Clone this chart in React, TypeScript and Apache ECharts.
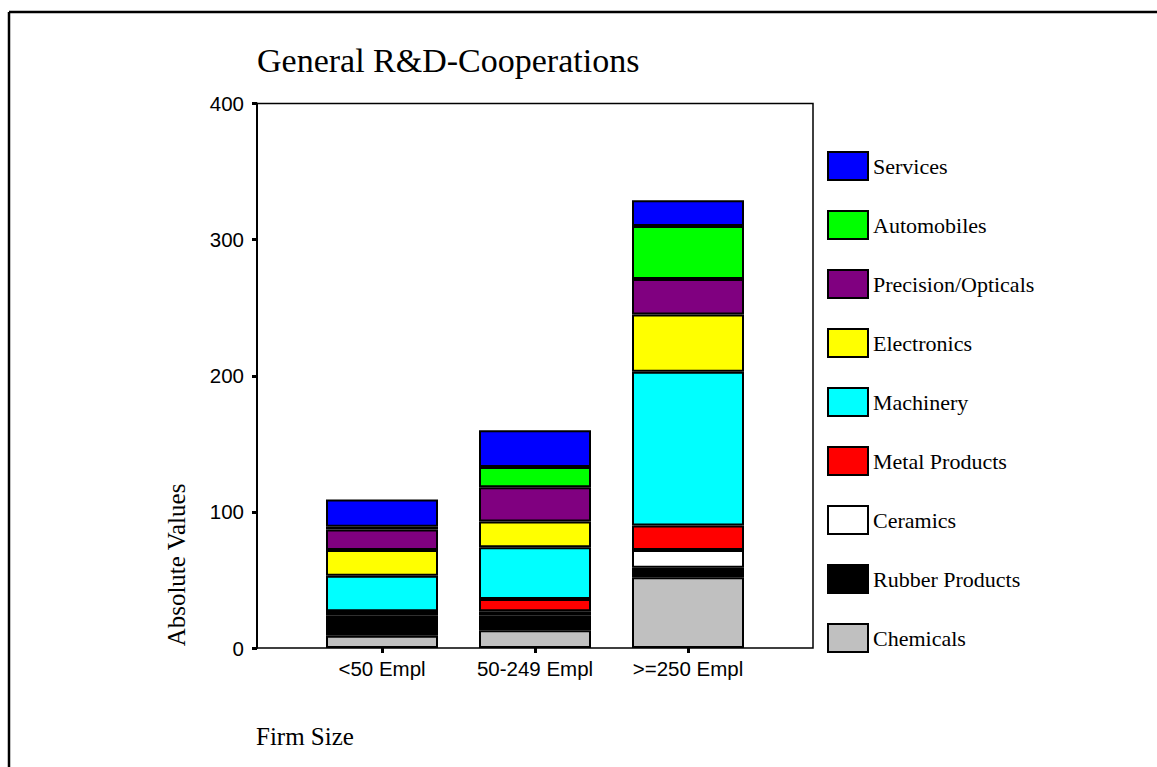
import React, { useEffect, useRef } from "react";
import * as echarts from "echarts";

const categories = ["<50 Empl", "50-249 Empl", ">=250 Empl"];
const chemicals = [9, 13, 52];
const rubber = [15, 11, 7];
const ceramics = [3, 3, 13];
const metal = [0, 9, 18];
const machinery = [26, 38, 113];
const electronics = [19, 19, 42];
const precision = [15, 25, 26];
const automobiles = [2, 15, 39];
const services = [20, 27, 19];

const seriesDefs = [
  { name: "Chemicals", data: chemicals, color: "#C0C0C0" },
  { name: "Rubber Products", data: rubber, color: "#000000" },
  { name: "Ceramics", data: ceramics, color: "#FFFFFF" },
  { name: "Metal Products", data: metal, color: "#FF0000" },
  { name: "Machinery", data: machinery, color: "#00FFFF" },
  { name: "Electronics", data: electronics, color: "#FFFF00" },
  { name: "Precision/Opticals", data: precision, color: "#800080" },
  { name: "Automobiles", data: automobiles, color: "#00FF00" },
  { name: "Services", data: services, color: "#0000FF" },
];

const yTicks = { min: 0, max: 400, interval: 100 };

const SERIF = "'Liberation Serif', 'Times New Roman', serif";
const SANS = "'Liberation Sans', Arial, sans-serif";

export default function App() {
  const ref = useRef<HTMLDivElement>(null);
  useEffect(() => {
    if (!ref.current) return;
    const chart = echarts.init(ref.current, undefined, { renderer: "svg" });
    const top = 103.5;
    const height = 544.5;
    chart.setOption({
      animation: false,
      backgroundColor: "#fff",
      grid: [
        { left: 257, top, width: 556, height, show: true, borderColor: "#000", borderWidth: 1.5, backgroundColor: "transparent" },
        { left: 305.5, top, width: 459, height, show: false },
      ],
      xAxis: [
        { gridIndex: 0, type: "value", min: 0, max: 1, show: false },
        {
          gridIndex: 1,
          type: "category",
          data: categories,
          axisLine: { show: false },
          axisTick: { show: true, alignWithLabel: true, length: 5, lineStyle: { color: "#000", width: 3 } },
          axisLabel: { color: "#000", fontFamily: SANS, fontSize: 20.5, margin: 10 },
        },
      ],
      yAxis: [
        {
          gridIndex: 0,
          type: "value",
          min: yTicks.min,
          max: yTicks.max,
          interval: yTicks.interval,
          axisLine: { show: true, lineStyle: { color: "#000", width: 2 } },
          axisTick: { show: true, length: 5, lineStyle: { color: "#000", width: 3 } },
          axisLabel: { color: "#000", fontFamily: SANS, fontSize: 20.5, margin: 13 },
          splitLine: { show: false },
        },
        { gridIndex: 1, type: "value", min: yTicks.min, max: yTicks.max, show: false, splitLine: { show: false } },
      ],
      legend: {
        orient: "vertical",
        left: 827,
        top: 151,
        padding: 0,
        itemWidth: 40,
        itemHeight: 28,
        itemGap: 29,
        icon: "rect",
        itemStyle: { borderColor: "#000", borderWidth: 2 },
        textStyle: { color: "#000", fontFamily: SERIF, fontSize: 22 },
        data: seriesDefs.map((s) => s.name).reverse(),
        selectedMode: false,
      },
      series: seriesDefs.map((s) => ({
        name: s.name,
        type: "bar",
        stack: "total",
        xAxisIndex: 1,
        yAxisIndex: 1,
        barWidth: 112,
        data: s.data,
        itemStyle: { color: s.color, borderColor: "#000", borderWidth: 2 },
      })),
      graphic: [
        { type: "line", shape: { x1: 9, y1: 12, x2: 1157, y2: 12 }, style: { stroke: "#000", lineWidth: 2.5 } },
        { type: "line", shape: { x1: 9, y1: 12, x2: 9, y2: 767 }, style: { stroke: "#000", lineWidth: 2.5 } },
        {
          type: "text",
          x: 257,
          y: 60,
          style: { text: "General R&D-Cooperations", fill: "#000", font: `34px ${SERIF}`, verticalAlign: "middle", align: "left" },
        },
        {
          type: "text",
          x: 256,
          y: 736,
          style: { text: "Firm Size", fill: "#000", font: `25px ${SERIF}`, verticalAlign: "middle", align: "left" },
        },
        {
          type: "text",
          x: 176,
          y: 565,
          rotation: Math.PI / 2,
          style: { text: "Absolute Values", fill: "#000", font: `25px ${SERIF}`, verticalAlign: "middle", align: "center" },
        },
      ],
    });
    return () => chart.dispose();
  }, []);
  return <div ref={ref} style={{ position: "fixed", left: 0, top: 0, width: 1157, height: 767 }} />;
}
